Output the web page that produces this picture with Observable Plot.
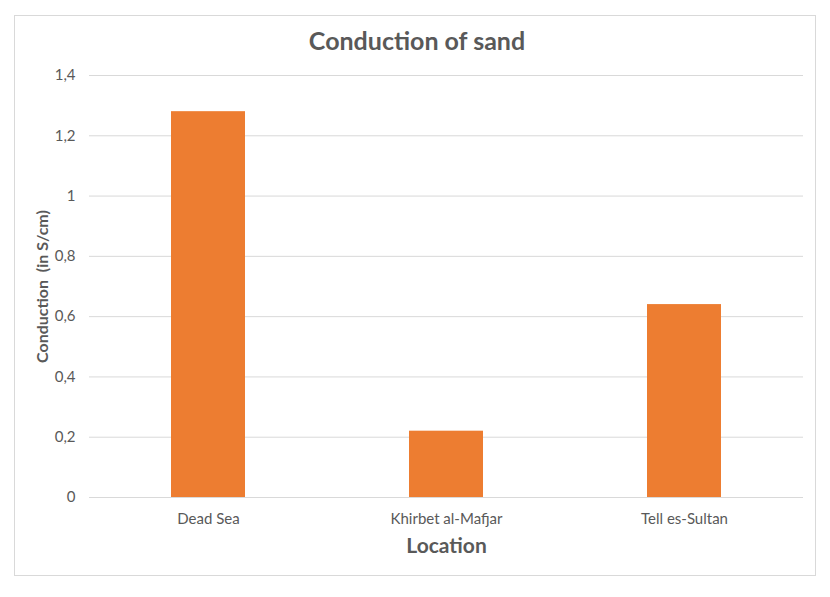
<!DOCTYPE html>
<html>
<head>
<meta charset="utf-8">
<script src="https://cdn.jsdelivr.net/npm/d3@7"></script>
<script src="https://cdn.jsdelivr.net/npm/@observablehq/plot@0.6"></script>
<style>
  body { margin: 0; background: #fff; }
  #wrap { position: relative; width: 830px; height: 597px; font-family: Lato, "Open Sans", sans-serif; }
  #border { position: absolute; left: 14px; top: 15px; width: 800px; height: 559px; border: 1px solid #d9d9d9; box-sizing: content-box; }
  #title { position: absolute; left: 2px; width: 830px; top: 25px; text-align: center; font-size: 25px; font-weight: 700; color: #595959; line-height: 30px; }
  #chart { position: absolute; left: 0; top: 0; }
</style>
</head>
<body>
<div id="wrap">
  <div id="border"></div>
  <div id="chart"></div>
  <div id="title">Conduction of sand</div>
</div>
<script>
const locations = ["Dead Sea", "Khirbet al-Mafjar", "Tell es-Sultan"];
const conduction = [1.28, 0.22, 0.64];
const yTicks = [0, 0.2, 0.4, 0.6, 0.8, 1, 1.2, 1.4];
const yTitle = "Conduction\u00a0 (in S/cm)";
const xTitle = "Location";

const data = locations.map((loc, i) => ({location: loc, value: conduction[i]}));
const fmt = d => String(d).replace(".", ",");

const chart = Plot.plot({
  width: 830,
  height: 597,
  marginLeft: 89,
  marginRight: 27,
  marginTop: 75,
  marginBottom: 100,
  style: {fontFamily: "Lato, 'Open Sans', sans-serif", fontSize: "15px", color: "#595959", background: "transparent"},
  x: {domain: locations, paddingInner: 0.69, paddingOuter: 0.345, label: null},
  y: {domain: [0, 1.4], label: null},
  marks: [
    Plot.gridY(yTicks, {stroke: "#d9d9d9", strokeOpacity: 1}),
    Plot.barY(data, {x: "location", y: "value", fill: "#ED7D31"}),
    Plot.axisY({ticks: yTicks, tickFormat: fmt, tickSize: 0, tickPadding: 14, label: null, fill: "#595959", fontSize: 15}),
    Plot.axisX({tickSize: 0, tickPadding: 16, label: null, fill: "#595959", fontSize: 15}),
    Plot.text([yTitle], {text: d => d, frameAnchor: "left", textAnchor: "middle", dx: -47, rotate: -90, fontWeight: "bold", fontSize: 16, fill: "#595959"}),
    Plot.text([xTitle], {text: d => d, frameAnchor: "bottom", dy: 55, fontWeight: "bold", fontSize: 21, fill: "#595959"})
  ]
});
document.getElementById("chart").appendChild(chart);
</script>
</body>
</html>
